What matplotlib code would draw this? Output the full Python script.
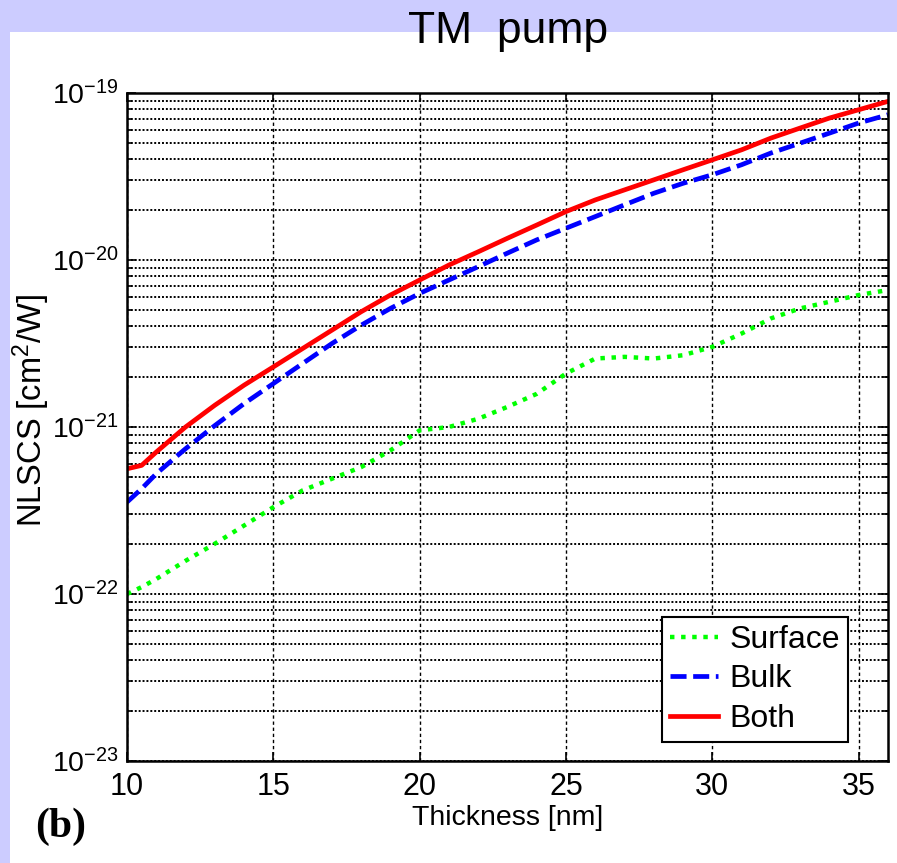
import matplotlib
matplotlib.use('Agg')
import matplotlib.pyplot as plt
from matplotlib.patches import Rectangle

plt.rcParams['font.family'] = ['Liberation Sans', 'DejaVu Sans']
plt.rcParams['mathtext.fontset'] = 'custom'
plt.rcParams['mathtext.rm'] = 'Liberation Sans'
plt.rcParams['mathtext.default'] = 'regular'

# Thickness [nm]
thickness = [10, 10.5, 11, 12, 13, 14, 15, 16, 17, 18, 19, 20, 21, 22, 23,
             24, 25, 26, 27, 28, 29, 30, 31, 32, 33, 34, 35, 36]

# NLSCS [cm^2/W]
surface = [1.00e-22, 1.10e-22, 1.23e-22, 1.58e-22, 2.00e-22, 2.57e-22, 3.31e-22,
           4.17e-22, 4.90e-22, 5.75e-22, 7.24e-22, 9.55e-22, 1.00e-21, 1.12e-21,
           1.32e-21, 1.58e-21, 2.09e-21, 2.57e-21, 2.63e-21, 2.57e-21, 2.69e-21,
           3.02e-21, 3.63e-21, 4.47e-21, 5.13e-21, 5.62e-21, 6.17e-21, 6.61e-21]
bulk = [3.55e-22, 4.27e-22, 5.25e-22, 7.41e-22, 1.02e-21, 1.38e-21, 1.82e-21,
        2.40e-21, 3.16e-21, 4.07e-21, 5.13e-21, 6.31e-21, 7.59e-21, 9.12e-21,
        1.10e-20, 1.32e-20, 1.55e-20, 1.82e-20, 2.14e-20, 2.51e-20, 2.88e-20,
        3.24e-20, 3.72e-20, 4.37e-20, 5.01e-20, 5.75e-20, 6.61e-20, 7.41e-20]
both = [5.62e-22, 5.89e-22, 7.08e-22, 1.00e-21, 1.35e-21, 1.78e-21, 2.29e-21,
        2.95e-21, 3.80e-21, 4.90e-21, 6.17e-21, 7.59e-21, 9.33e-21, 1.12e-20,
        1.35e-20, 1.62e-20, 1.95e-20, 2.29e-20, 2.63e-20, 3.02e-20, 3.47e-20,
        3.98e-20, 4.57e-20, 5.37e-20, 6.17e-20, 7.08e-20, 7.94e-20, 8.91e-20]

xticks = [10, 15, 20, 25, 30, 35]
yticks = [1e-23, 1e-22, 1e-21, 1e-20, 1e-19]
ytick_labels = [r'$10^{-23}$', r'$10^{-22}$', r'$10^{-21}$', r'$10^{-20}$', r'$10^{-19}$']

fig = plt.figure(figsize=(8.97, 8.63), dpi=100)
fig.patch.set_facecolor('#ccccff')
# white panel below the lavender band
fig.patches.append(Rectangle((10 / 897, 0), 1, 1 - 32 / 863, transform=fig.transFigure,
                             facecolor='white', edgecolor='none', zorder=-10))

ax = fig.add_axes([127 / 897, 1 - 761 / 863, 761 / 897, 668 / 863])

ax.plot(thickness, surface, color='#00ff00', lw=3.2, dashes=(1, 1.5), label='Surface')
ax.plot(thickness, bulk, color='#0000ff', lw=3.4, dashes=(3.4, 1.4), label='Bulk')
ax.plot(thickness, both, color='#ff0000', lw=3.4, label='Both')

ax.set_yscale('log')
ax.set_xlim(10, 36)
ax.set_ylim(1e-23, 1e-19)
ax.set_xticks(xticks)
ax.set_xticklabels([str(t) for t in xticks])
ax.set_yticks(yticks)
ax.set_yticklabels(ytick_labels)

ax.grid(True, axis='x', which='major', color='black', lw=1.0, linestyle=(0, (2.4, 2)))
ax.grid(True, axis='y', which='both', color='black', lw=1.4, linestyle=(0, (1, 1)))

ax.tick_params(which='both', direction='in', top=True, right=True, width=1.2)
ax.tick_params(axis='x', labelsize=22, pad=8)
ax.tick_params(axis='y', labelsize=20.5, pad=6)
ax.tick_params(which='major', length=6.5)
ax.tick_params(which='minor', length=3.5)
for s in ax.spines.values():
    s.set_linewidth(1.8)

ax.set_xlabel('Thickness [nm]', fontsize=20.5, labelpad=2)
ax.set_ylabel(r'NLSCS [cm$^2$/W]', fontsize=23.5)
ax.yaxis.set_label_coords(-0.098, 0.525)

leg = ax.legend(loc='lower right', bbox_to_anchor=(0.9474, 0.0284), fontsize=23,
                frameon=True, fancybox=False, framealpha=1, edgecolor='black',
                handlelength=1.5, handletextpad=0.35, labelspacing=0.3,
                borderpad=0.25, borderaxespad=0)
leg.get_frame().set_linewidth(1.5)

fig.text(508 / 897, 1 - 43 / 863, 'TM  pump', fontsize=32, ha='center', va='baseline')
fig.text(35 / 897, 1 - 837 / 863, '(b)', fontsize=30, fontweight='bold',
         family='Liberation Serif', ha='left', va='baseline')

fig.savefig('out.png', dpi=100, facecolor=fig.get_facecolor())
